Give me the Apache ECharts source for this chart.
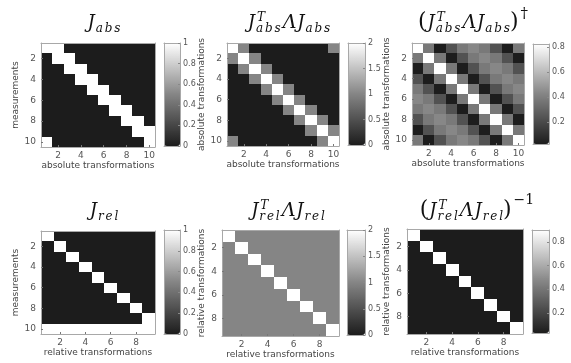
<!DOCTYPE html>
<html><head><meta charset="utf-8">
<script src="https://cdn.jsdelivr.net/npm/echarts@6/dist/echarts.min.js"></script>
<style>html,body{margin:0;padding:0;background:#fff}#c{width:571px;height:363px}</style>
</head><body><div id="c"></div>
<script>
// ---------- data ----------
const absTransforms = [1,2,3,4,5,6,7,8,9,10];
const relTransforms = [1,2,3,4,5,6,7,8,9];
const measurements = [1,2,3,4,5,6,7,8,9,10];

const jAbs = [
  [1,1,0,0,0,0,0,0,0,0],
  [0,1,1,0,0,0,0,0,0,0],
  [0,0,1,1,0,0,0,0,0,0],
  [0,0,0,1,1,0,0,0,0,0],
  [0,0,0,0,1,1,0,0,0,0],
  [0,0,0,0,0,1,1,0,0,0],
  [0,0,0,0,0,0,1,1,0,0],
  [0,0,0,0,0,0,0,1,1,0],
  [0,0,0,0,0,0,0,0,1,1],
  [1,0,0,0,0,0,0,0,0,1]
];
const jAbsTLJ = [
  [2,1,0,0,0,0,0,0,0,1],
  [1,2,1,0,0,0,0,0,0,0],
  [0,1,2,1,0,0,0,0,0,0],
  [0,0,1,2,1,0,0,0,0,0],
  [0,0,0,1,2,1,0,0,0,0],
  [0,0,0,0,1,2,1,0,0,0],
  [0,0,0,0,0,1,2,1,0,0],
  [0,0,0,0,0,0,1,2,1,0],
  [0,0,0,0,0,0,0,1,2,1],
  [1,0,0,0,0,0,0,0,1,2]
];
const jAbsPinv = [
  [.83,.38,.03,.23,.38,.43,.38,.23,.03,.38],
  [.38,.83,.38,.03,.23,.38,.43,.38,.23,.03],
  [.03,.38,.83,.38,.03,.23,.38,.43,.38,.23],
  [.23,.03,.38,.83,.38,.03,.23,.38,.43,.38],
  [.38,.23,.03,.38,.83,.38,.03,.23,.38,.43],
  [.43,.38,.23,.03,.38,.83,.38,.03,.23,.38],
  [.38,.43,.38,.23,.03,.38,.83,.38,.03,.23],
  [.23,.38,.43,.38,.23,.03,.38,.83,.38,.03],
  [.03,.23,.38,.43,.38,.23,.03,.38,.83,.38],
  [.38,.03,.23,.38,.43,.38,.23,.03,.38,.83]
];
const jRel = [
  [1,0,0,0,0,0,0,0,0],
  [0,1,0,0,0,0,0,0,0],
  [0,0,1,0,0,0,0,0,0],
  [0,0,0,1,0,0,0,0,0],
  [0,0,0,0,1,0,0,0,0],
  [0,0,0,0,0,1,0,0,0],
  [0,0,0,0,0,0,1,0,0],
  [0,0,0,0,0,0,0,1,0],
  [0,0,0,0,0,0,0,0,1],
  [1,1,1,1,1,1,1,1,1]
];
const jRelTLJ = [
  [2,1,1,1,1,1,1,1,1],
  [1,2,1,1,1,1,1,1,1],
  [1,1,2,1,1,1,1,1,1],
  [1,1,1,2,1,1,1,1,1],
  [1,1,1,1,2,1,1,1,1],
  [1,1,1,1,1,2,1,1,1],
  [1,1,1,1,1,1,2,1,1],
  [1,1,1,1,1,1,1,2,1],
  [1,1,1,1,1,1,1,1,2]
];
const jRelInv = [
  [.9,.03,.03,.03,.03,.03,.03,.03,.03],
  [.03,.9,.03,.03,.03,.03,.03,.03,.03],
  [.03,.03,.9,.03,.03,.03,.03,.03,.03],
  [.03,.03,.03,.9,.03,.03,.03,.03,.03],
  [.03,.03,.03,.03,.9,.03,.03,.03,.03],
  [.03,.03,.03,.03,.03,.9,.03,.03,.03],
  [.03,.03,.03,.03,.03,.03,.9,.03,.03],
  [.03,.03,.03,.03,.03,.03,.03,.9,.03],
  [.03,.03,.03,.03,.03,.03,.03,.03,.9]
];
// colorbar ranges and tick labels
const cbRangeAbs = [0, 1],    cbTicksAbs = [0, 0.2, 0.4, 0.6, 0.8, 1];
const cbRangeAbsTLJ = [0, 2], cbTicksAbsTLJ = [0, 0.5, 1, 1.5, 2];
const cbRangePinv = [0.025, 0.825], cbTicksPinv = [0.2, 0.4, 0.6, 0.8];
const cbRangeRel = [0, 1],    cbTicksRel = [0, 0.2, 0.4, 0.6, 0.8, 1];
const cbRangeRelTLJ = [0, 2], cbTicksRelTLJ = [0, 0.5, 1, 1.5, 2];
const cbRangeRelInv = [0.03, 0.9], cbTicksRelInv = [0.2, 0.4, 0.6, 0.8];

const panels = [
  {m: jAbs, xs: absTransforms, ys: measurements, xName: 'absolute transformations', yName: 'measurements', range: cbRangeAbs, ticks: cbTicksAbs},
  {m: jAbsTLJ, xs: absTransforms, ys: absTransforms, xName: 'absolute transformations', yName: 'absolute transformations', range: cbRangeAbsTLJ, ticks: cbTicksAbsTLJ},
  {m: jAbsPinv, xs: absTransforms, ys: absTransforms, xName: 'absolute transformations', yName: 'absolute transformations', range: cbRangePinv, ticks: cbTicksPinv},
  {m: jRel, xs: relTransforms, ys: measurements, xName: 'relative transformations', yName: 'measurements', range: cbRangeRel, ticks: cbTicksRel},
  {m: jRelTLJ, xs: relTransforms, ys: relTransforms, xName: 'relative transformations', yName: 'relative transformations', range: cbRangeRelTLJ, ticks: cbTicksRelTLJ},
  {m: jRelInv, xs: relTransforms, ys: relTransforms, xName: 'relative transformations', yName: 'relative transformations', range: cbRangeRelInv, ticks: cbTicksRelInv}
];

// ---------- layout ----------
const layout = [
  {g: [41, 43, 114, 104], cb: [164, 43, 16, 103]},
  {g: [227, 43, 112, 103], cb: [348, 43, 17, 102]},
  {g: [412, 43, 112, 102], cb: [533, 44, 16, 100]},
  {g: [41, 231, 114, 103], cb: [164, 230, 16, 104]},
  {g: [222, 230, 117, 106], cb: [347, 230, 18, 105]},
  {g: [407, 229, 116, 105], cb: [532, 230, 17, 103]}
];

const FONT = '"DejaVu Sans", sans-serif';
const grids = [], xAxes = [], yAxes = [], series = [], visualMaps = [];
const evenOnly = (i) => i % 2 === 1;
const lineC = '#a8a8a8';

function renderCell(params, api) {
  const c = api.coord([api.value(0), api.value(1)]);
  const s = api.size([1, 1]);
  const x0 = Math.round(c[0] - s[0] / 2), x1 = Math.round(c[0] + s[0] / 2);
  const y0 = Math.round(c[1] - s[1] / 2), y1 = Math.round(c[1] + s[1] / 2);
  return {type: 'rect', shape: {x: x0, y: y0, width: x1 - x0, height: y1 - y0},
    style: {fill: api.visual('color'), stroke: null}};
}

panels.forEach((p, i) => {
  const L = layout[i];
  const gi = grids.length;
  grids.push({left: L.g[0], top: L.g[1], width: L.g[2], height: L.g[3], containLabel: false});
  const xi = xAxes.length;
  xAxes.push({
    type: 'category', gridIndex: gi, data: p.xs, position: 'bottom', z: 10,
    axisLine: {show: true, onZero: false, lineStyle: {color: lineC, width: 1}},
    axisTick: {show: true, inside: true, length: 2, alignWithLabel: true, interval: evenOnly, lineStyle: {color: '#777'}},
    axisLabel: {interval: evenOnly, color: '#555', fontSize: 9, fontFamily: FONT, margin: 4},
    splitLine: {show: false},
    name: p.xName, nameLocation: 'middle', nameGap: 12,
    nameTextStyle: {color: '#444', fontSize: 9, fontFamily: FONT}
  });
  xAxes.push({
    type: 'category', gridIndex: gi, data: p.xs, position: 'top', z: 10,
    axisLine: {show: true, onZero: false, lineStyle: {color: lineC, width: 1}},
    axisTick: {show: false}, axisLabel: {show: false}, splitLine: {show: false}
  });
  const yi = yAxes.length;
  yAxes.push({
    type: 'category', gridIndex: gi, data: p.ys, inverse: true, position: 'left', z: 10,
    axisLine: {show: true, onZero: false, lineStyle: {color: lineC, width: 1}},
    axisTick: {show: true, inside: true, length: 2, alignWithLabel: true, interval: evenOnly, lineStyle: {color: '#777'}},
    axisLabel: {interval: evenOnly, color: '#555', fontSize: 9, fontFamily: FONT, margin: 5},
    splitLine: {show: false},
    name: p.yName, nameLocation: 'middle', nameGap: 16, nameRotate: 90,
    nameTextStyle: {color: '#444', fontSize: 9, fontFamily: FONT}
  });
  yAxes.push({
    type: 'category', gridIndex: gi, data: p.ys, inverse: true, position: 'right', z: 10,
    axisLine: {show: true, onZero: false, lineStyle: {color: lineC, width: 1}},
    axisTick: {show: false}, axisLabel: {show: false}, splitLine: {show: false}
  });
  const data = [];
  p.m.forEach((row, r) => row.forEach((v, c) => data.push([c, r, v])));
  const si = series.length;
  series.push({
    type: 'custom', xAxisIndex: xi, yAxisIndex: yi, data: data,
    encode: {x: 0, y: 1}, renderItem: renderCell, silent: true, clip: true
  });
  visualMaps.push({
    type: 'continuous', seriesIndex: si, dimension: 2, min: p.range[0], max: p.range[1],
    inRange: {color: ['#1c1c1c', '#858585', '#ffffff']},
    left: L.cb[0], top: L.cb[1], itemWidth: L.cb[2], itemHeight: L.cb[3],
    orient: 'vertical', calculable: false, hoverLink: false, text: null, padding: 0,
    textStyle: {color: 'transparent'}
  });
  const cg = grids.length;
  grids.push({left: L.cb[0], top: L.cb[1], width: L.cb[2], height: L.cb[3], containLabel: false});
  xAxes.push({type: 'category', gridIndex: cg, data: [''], position: 'bottom', z: 10,
    axisLine: {show: true, onZero: false, lineStyle: {color: lineC}}, axisTick: {show: false}, axisLabel: {show: false}});
  xAxes.push({type: 'category', gridIndex: cg, data: [''], position: 'top', z: 10,
    axisLine: {show: true, onZero: false, lineStyle: {color: lineC}}, axisTick: {show: false}, axisLabel: {show: false}});
  yAxes.push({type: 'value', gridIndex: cg, min: p.range[0], max: p.range[1], position: 'right', z: 10,
    axisLine: {show: true, onZero: false, lineStyle: {color: lineC}},
    axisTick: {show: true, inside: true, length: 2, customValues: p.ticks, lineStyle: {color: '#888'}},
    axisLabel: {customValues: p.ticks, color: '#555', fontSize: 8, fontFamily: FONT, margin: 3,
      formatter: (v) => String(+v.toFixed(2))},
    splitLine: {show: false}});
  yAxes.push({type: 'value', gridIndex: cg, min: p.range[0], max: p.range[1], position: 'left', z: 10,
    axisLine: {show: true, onZero: false, lineStyle: {color: lineC}}, axisTick: {show: false}, axisLabel: {show: false}, splitLine: {show: false}});
});

// ---------- math titles ----------
const mctx = document.createElement('canvas').getContext('2d');
function tw(t, font) { mctx.font = font; return mctx.measureText(t).width; }
function mathTitle(cx, by, parts) {
  const items = []; let x = 0;
  parts.forEach(p => {
    const grp = p.stack || [p];
    let w = 0;
    grp.forEach(q => {
      const font = (q.up ? '' : 'italic ') + q.s + 'px "DejaVu Serif", serif';
      const chars = q.ls ? Array.from(q.t) : [q.t];
      let cx2 = x + (q.dx || 0);
      chars.forEach((ch, k) => {
        items.push({t: ch, font: font, x: cx2, y: by + (q.dy || 0) - 0.3 * q.s});
        cx2 += tw(ch, font) + (k < chars.length - 1 ? (q.ls || 0) : 0);
      });
      w = Math.max(w, cx2 - x);
    });
    x += w + (p.gap || 0);
  });
  const x0 = cx - x / 2;
  return items.map(it => ({
    type: 'text', x: x0 + it.x, y: it.y, silent: true,
    style: {text: it.t, font: it.font, fill: '#111', align: 'left', verticalAlign: 'middle',
      textAlign: 'left', textVerticalAlign: 'middle'}
  }));
}
const J = 18, S = 12, LS = 1.8;
function titleBody(sub) {
  return [
    {t: 'J', s: J, gap: 1},
    {stack: [{t: 'T', s: S, dy: -8, dx: 1}, {t: sub, s: S, dy: 3, ls: LS}], gap: 2},
    {t: 'Λ', s: J + 1, gap: 1},
    {t: 'J', s: J, gap: 1},
    {t: sub, s: S, dy: 3, ls: LS}
  ];
}
const graphics = [].concat(
  mathTitle(104, 29, [{t: 'J', s: J, gap: 1}, {t: 'abs', s: S, dy: 3, ls: LS}]),
  mathTitle(289, 29, titleBody('abs')),
  mathTitle(473, 29, [{t: '(', s: 22, up: true, gap: 1}].concat(titleBody('abs'), [{t: ')', s: 22, up: true, gap: 2}, {t: '†', s: 15, up: true, dy: -10}])),
  mathTitle(104, 217, [{t: 'J', s: J, gap: 1}, {t: 'rel', s: S, dy: 3, ls: LS}]),
  mathTitle(288, 217, titleBody('rel')),
  mathTitle(477, 217, [{t: '(', s: 22, up: true, gap: 1}].concat(titleBody('rel'), [{t: ')', s: 22, up: true, gap: 2}, {t: '−1', s: 14, up: true, dy: -12}]))
);

const chart = echarts.init(document.getElementById('c'), null, {renderer: 'canvas'});
chart.setOption({
  animation: false,
  backgroundColor: '#ffffff',
  grid: grids, xAxis: xAxes, yAxis: yAxes, series: series, visualMap: visualMaps,
  graphic: graphics
});
</script></body></html>
